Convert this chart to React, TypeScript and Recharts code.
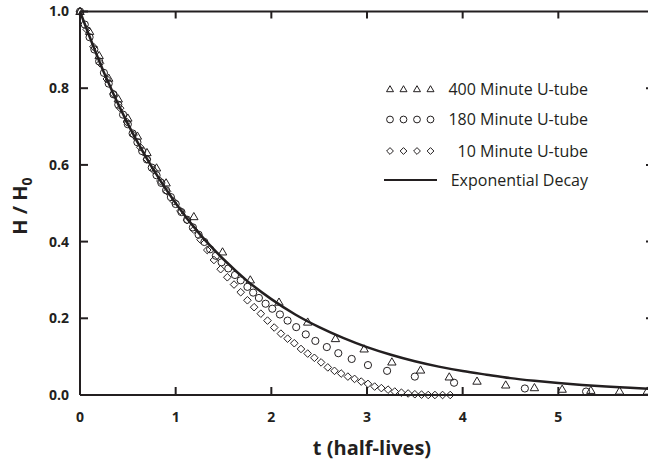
import { ComposedChart, Scatter, Line, XAxis, YAxis } from "recharts";

// t in half-lives, H/H0
const tube400T = [0, 0.1, 0.2, 0.3, 0.4, 0.5, 0.6, 0.7, 0.8, 0.9, 1.19, 1.49, 1.78, 2.08, 2.38, 2.67, 2.97, 3.26, 3.56, 3.86, 4.15, 4.45, 4.75, 5.04, 5.34, 5.64, 5.93];
const tube400H = [1.0, 0.948, 0.885, 0.826, 0.772, 0.722, 0.675, 0.632, 0.592, 0.553, 0.465, 0.373, 0.3, 0.242, 0.19, 0.147, 0.12, 0.086, 0.065, 0.047, 0.036, 0.026, 0.019, 0.015, 0.012, 0.01, 0.01];

const tube180T = [0, 0.05, 0.1, 0.15, 0.2, 0.25, 0.3, 0.35, 0.4, 0.45, 0.5, 0.55, 0.6, 0.65, 0.7, 0.75, 0.8, 0.85, 0.9, 0.95, 1.0, 1.06, 1.12, 1.18, 1.24, 1.3, 1.36, 1.42, 1.48, 1.55, 1.62, 1.68, 1.75, 1.81, 1.87, 1.94, 2.01, 2.09, 2.17, 2.26, 2.36, 2.46, 2.58, 2.7, 2.84, 3.01, 3.21, 3.5, 3.91, 4.65, 5.29];
const tube180H = [1.0, 0.966, 0.933, 0.901, 0.87, 0.84, 0.812, 0.784, 0.757, 0.731, 0.706, 0.682, 0.659, 0.636, 0.614, 0.593, 0.573, 0.553, 0.534, 0.516, 0.498, 0.477, 0.457, 0.437, 0.418, 0.399, 0.38, 0.363, 0.346, 0.33, 0.313, 0.299, 0.282, 0.267, 0.253, 0.238, 0.225, 0.21, 0.194, 0.177, 0.158, 0.141, 0.125, 0.109, 0.094, 0.078, 0.063, 0.048, 0.032, 0.017, 0.009];

const tube10T = [0, 0.07, 0.14, 0.21, 0.28, 0.35, 0.42, 0.49, 0.56, 0.63, 0.7, 0.77, 0.84, 0.91, 0.98, 1.05, 1.12, 1.19, 1.26, 1.33, 1.4, 1.47, 1.54, 1.61, 1.68, 1.75, 1.82, 1.89, 1.96, 2.03, 2.1, 2.17, 2.24, 2.31, 2.38, 2.45, 2.52, 2.59, 2.66, 2.73, 2.8, 2.87, 2.94, 3.01, 3.08, 3.15, 3.22, 3.29, 3.36, 3.43, 3.5, 3.57, 3.64, 3.71, 3.79, 3.87];
const tube10H = [1.0, 0.953, 0.908, 0.865, 0.824, 0.785, 0.748, 0.712, 0.678, 0.646, 0.615, 0.586, 0.558, 0.531, 0.505, 0.48, 0.456, 0.431, 0.405, 0.378, 0.352, 0.328, 0.307, 0.288, 0.268, 0.247, 0.229, 0.212, 0.194, 0.176, 0.16, 0.147, 0.135, 0.12, 0.108, 0.097, 0.085, 0.072, 0.063, 0.056, 0.048, 0.042, 0.035, 0.029, 0.022, 0.018, 0.014, 0.009, 0.006, 0.004, 0.002, 0.001, 0, 0, 0, 0];

const decayT = [0, 0.25, 0.5, 0.75, 1, 1.25, 1.5, 1.75, 2, 2.25, 2.5, 2.75, 3, 3.25, 3.5, 3.75, 4, 4.25, 4.5, 4.75, 5, 5.25, 5.5, 5.75, 6];
const decayH = [1, 0.841, 0.707, 0.595, 0.5, 0.42, 0.354, 0.297, 0.25, 0.21, 0.177, 0.149, 0.125, 0.105, 0.088, 0.074, 0.0625, 0.053, 0.044, 0.037, 0.031, 0.026, 0.022, 0.019, 0.0156];

const xTicks = [0, 1, 2, 3, 4, 5, 6];
const xTopTicks = [1, 2, 3, 4, 5];
const yTicks = [0, 0.2, 0.4, 0.6, 0.8, 1.0];
const yRightTicks = [0.2, 0.4, 0.6, 0.8];

const pairs = (ts: number[], hs: number[]) => ts.map((t, i) => ({ t, h: hs[i] }));

const INK = "#231f20";
const FONT = "'Open Sans', 'Noto Sans', sans-serif";
const AXIS_LINE = { stroke: INK, strokeWidth: 2 };
const TL = 8; // inward tick length
const X_MARGIN = 17;
const Y_MARGIN = 11;

// ticks point into the plot, so draw line + label ourselves
const BottomTick = ({ x, y, payload }: any) => (
  <g>
    <line x1={x} x2={x} y1={y - X_MARGIN} y2={y - X_MARGIN - TL} stroke={INK} strokeWidth={2} />
    <text x={x} y={y} dy="0.71em" textAnchor="middle" fill={INK} fontSize={14} fontWeight={700} fontFamily={FONT}>
      {payload.value}
    </text>
  </g>
);
const LeftTick = ({ x, y, payload }: any) => (
  <g>
    <line x1={x + Y_MARGIN} x2={x + Y_MARGIN + TL} y1={y} y2={y} stroke={INK} strokeWidth={2} />
    <text x={x} y={y} dy="0.355em" textAnchor="end" fill={INK} fontSize={14} fontWeight={700} fontFamily={FONT}>
      {Number(payload.value).toFixed(1)}
    </text>
  </g>
);
const TopTick = ({ x, y }: any) => <line x1={x} x2={x} y1={y} y2={y + 7} stroke={INK} strokeWidth={2} />;
const RightTick = ({ x, y }: any) => <line x1={x} x2={x - TL} y1={y} y2={y} stroke={INK} strokeWidth={2} />;

const Triangle = ({ cx, cy }: any) => (
  <path d={`M${cx},${cy - 4.2}L${cx + 4.2},${cy + 3}L${cx - 4.2},${cy + 3}Z`} fill="none" stroke={INK} strokeWidth={1} />
);
const Circle = ({ cx, cy }: any) => <circle cx={cx} cy={cy} r={3.6} fill="none" stroke={INK} strokeWidth={1} />;
const Diamond = ({ cx, cy }: any) => (
  <path d={`M${cx},${cy - 3.8}L${cx + 3.8},${cy}L${cx},${cy + 3.8}L${cx - 3.8},${cy}Z`} fill="none" stroke={INK} strokeWidth={1} />
);

const YLabel = () => (
  <text transform="translate(27,206) rotate(-90)" textAnchor="middle" fill={INK} fontSize={20} fontWeight={700} fontFamily={FONT}>
    H / H<tspan fontSize={14} dy={5}>0</tspan>
  </text>
);

const LegendBox = () => {
  const rows = [
    { y: 19, label: "400 Minute U-tube", mark: "tri" },
    { y: 49.5, label: "180 Minute U-tube", mark: "circ" },
    { y: 81, label: "10 Minute U-tube", mark: "dia" },
    { y: 110, label: "Exponential Decay", mark: "line" },
  ];
  const xs = [10, 23.5, 37, 50.5];
  return (
    <svg width={220} height={125} style={{ position: "absolute", left: 380, top: 70 }}>
      {rows.map((r) => (
        <g key={r.label}>
          {r.mark === "line" ? (
            <line x1={4} x2={57} y1={r.y} y2={r.y} stroke={INK} strokeWidth={2} />
          ) : (
            xs.map((x) =>
              r.mark === "tri" ? (
                <path key={x} d={`M${x},${r.y - 3.3}L${x + 3.5},${r.y + 2.7}L${x - 3.5},${r.y + 2.7}Z`} fill="none" stroke={INK} strokeWidth={1} />
              ) : r.mark === "circ" ? (
                <circle key={x} cx={x} cy={r.y} r={3.4} fill="none" stroke={INK} strokeWidth={1} />
              ) : (
                <path key={x} d={`M${x},${r.y - 3.4}L${x + 3.4},${r.y}L${x},${r.y + 3.4}L${x - 3.4},${r.y}Z`} fill="none" stroke={INK} strokeWidth={1} />
              )
            )
          )}
          <text x={208} y={r.y} dy="0.35em" textAnchor="end" fill={INK} fontSize={16} fontFamily={FONT}>
            {r.label}
          </text>
        </g>
      ))}
    </svg>
  );
};

export default function App() {
  return (
    <div style={{ position: "absolute", left: 0, top: 0, width: 648, height: 463, overflow: "hidden", background: "#fff" }}>
      <ComposedChart width={680} height={463} margin={{ top: 10.5, right: 25, bottom: 0, left: 0 }}>
        <XAxis
          dataKey="t"
          type="number"
          domain={[0, 6]}
          ticks={xTicks}
          height={68}
          tickSize={0}
          tickMargin={X_MARGIN}
          tick={<BottomTick />}
          tickLine={false}
          axisLine={AXIS_LINE}
          label={{ value: "t (half-lives)", position: "insideBottom", offset: 8, dx: 5, fill: INK, fontSize: 20, fontWeight: 700, fontFamily: FONT }}
        />
        <XAxis
          xAxisId="top"
          dataKey="t"
          orientation="top"
          type="number"
          domain={[0, 6]}
          ticks={xTopTicks}
          height={1}
          tickSize={0}
          tickMargin={0}
          tick={<TopTick />}
          tickLine={false}
          axisLine={AXIS_LINE}
        />
        <YAxis
          type="number"
          domain={[0, 1]}
          ticks={yTicks}
          width={80}
          tickSize={0}
          tickMargin={Y_MARGIN}
          tick={<LeftTick />}
          tickLine={false}
          axisLine={AXIS_LINE}
          label={<YLabel />}
        />
        <YAxis
          yAxisId="right"
          orientation="right"
          type="number"
          domain={[0, 1]}
          ticks={yRightTicks}
          width={1}
          tickSize={0}
          tickMargin={0}
          tick={<RightTick />}
          tickLine={false}
          axisLine={AXIS_LINE}
        />
        <Line
          data={pairs(decayT, decayH)}
          dataKey="h"
          type="monotone"
          stroke={INK}
          strokeWidth={2.5}
          dot={false}
          activeDot={false}
          isAnimationActive={false}
        />
        {/* invisible helper so the frame axes (top / right) get drawn */}
        <Line
          xAxisId="top"
          yAxisId="right"
          data={pairs(decayT, decayH)}
          dataKey="h"
          stroke="none"
          dot={false}
          activeDot={false}
          legendType="none"
          isAnimationActive={false}
        />
        <Scatter data={pairs(tube10T, tube10H)} dataKey="h" shape={<Diamond />} isAnimationActive={false} />
        <Scatter data={pairs(tube180T, tube180H)} dataKey="h" shape={<Circle />} isAnimationActive={false} />
        <Scatter data={pairs(tube400T, tube400H)} dataKey="h" shape={<Triangle />} isAnimationActive={false} />
      </ComposedChart>
      <LegendBox />
    </div>
  );
}
